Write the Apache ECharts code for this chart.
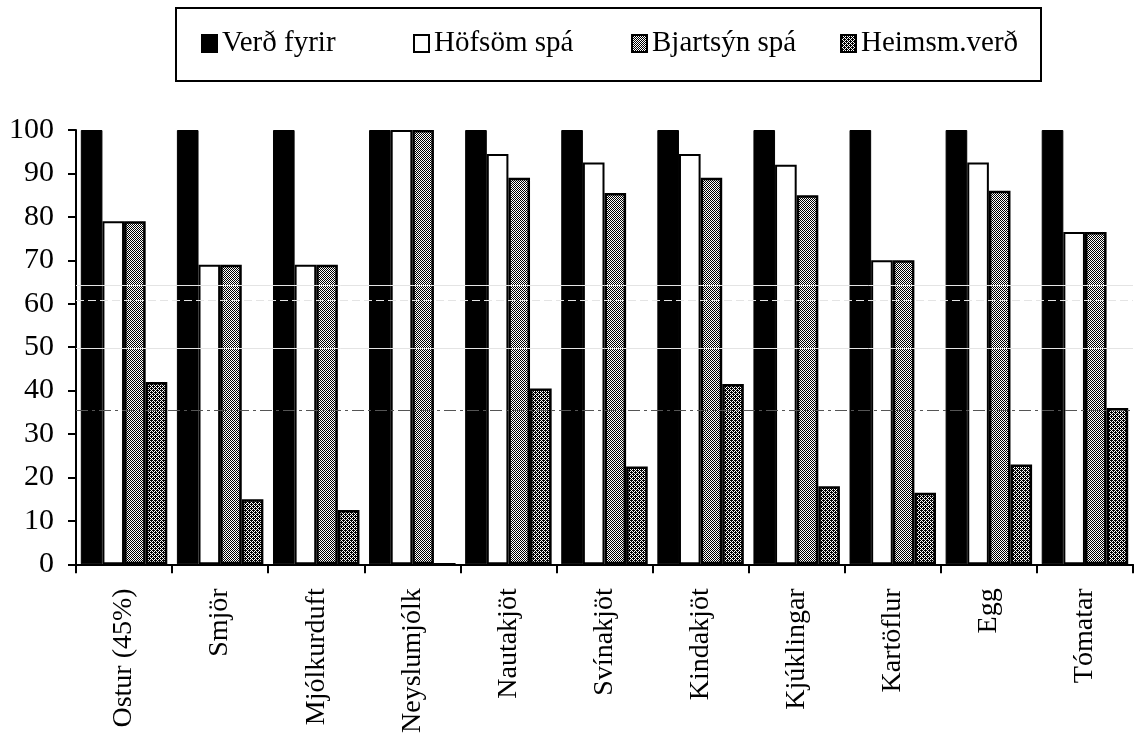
<!DOCTYPE html>
<html>
<head>
<meta charset="utf-8">
<script src="https://cdn.jsdelivr.net/npm/echarts@6/dist/echarts.min.js"></script>
<style>
  html, body { margin: 0; padding: 0; background: #fff; }
  #chart { width: 1135px; height: 736px; }
</style>
</head>
<body>
<div id="chart"></div>
<script>
// ---- data ----
const categories = ['Ostur (45%)', 'Smjör', 'Mjólkurduft', 'Neyslumjólk', 'Nautakjöt', 'Svínakjöt', 'Kindakjöt', 'Kjúklingar', 'Kartöflur', 'Egg', 'Tómatar'];
const seriesNames = ['Verð fyrir', 'Höfsöm spá', 'Bjartsýn spá', 'Heimsm.verð'];
const verdFyrir   = [100, 100, 100, 100, 100, 100, 100, 100, 100, 100, 100];
const hofsomSpa   = [79, 69, 69, 100, 94.5, 92.5, 94.5, 92, 70, 92.5, 76.5];
const bjartsynSpa = [79, 69, 69, 100, 89, 85.5, 89, 85, 70, 86, 76.5];
const heimsmVerd  = [42, 15, 12.5, 0, 40.5, 22.5, 41.5, 18, 16.5, 23, 36];
const yMin = 0, yMax = 100, yInterval = 10;
// faint scan lines visible in the reference (y values)
const scanLinesSolid = [64.3, 49.8];
const scanLinesDashed = [60.8];
const scanLineDark = [35.4];

// ---- patterns ----
function makePattern(mask) {
  const n = mask.length;
  const c = document.createElement('canvas');
  c.width = n; c.height = n;
  const ctx = c.getContext('2d');
  ctx.fillStyle = '#fff';
  ctx.fillRect(0, 0, n, n);
  ctx.fillStyle = '#000';
  for (let y = 0; y < n; y++) for (let x = 0; x < n; x++) if (mask[y][x] === '1') ctx.fillRect(x, y, 1, 1);
  return { image: c, repeat: 'repeat' };
}
const lightPattern = makePattern(['1010', '0101', '1010', '0101']);
const darkPattern  = makePattern(['1011', '0101', '1110', '0101']);

const serif = '"Liberation Serif", "Times New Roman", "DejaVu Serif", serif';

const chart = echarts.init(document.getElementById('chart'), null, { renderer: 'canvas' });

function legendAt(name, left) {
  return {
    data: [name], left: left, top: 24, itemWidth: 15, itemHeight: 17, itemGap: 0,
    icon: 'rect', selectedMode: false,
    textStyle: { fontFamily: serif, fontSize: 29, color: '#000', padding: [0, 0, 0, 0] }
  };
}

const markLines = {
  silent: true, symbol: 'none', label: { show: false }, animation: false, z: 10,
  data: [
    ...scanLinesSolid.map(v => ({ yAxis: v, lineStyle: { color: '#e4e4e4', width: 1, type: 'solid' } })),
    ...scanLinesDashed.map(v => ({ yAxis: v, lineStyle: { color: '#e4e4e4', width: 1, type: [8, 4] } })),
    ...scanLineDark.map(v => ({ yAxis: v, lineStyle: { color: '#555', width: 1, type: [12, 4, 3, 4] } }))
  ]
};

const option = {
  animation: false,
  backgroundColor: '#fff',
  graphic: [{
    type: 'rect', left: 175, top: 7, z: -1,
    shape: { width: 865, height: 73 },
    style: { fill: '#fff', stroke: '#000', lineWidth: 2 }
  }],
  legend: [
    legendAt(seriesNames[0], 196),
    legendAt(seriesNames[1], 408),
    legendAt(seriesNames[2], 626),
    legendAt(seriesNames[3], 835)
  ],
  grid: { left: 76, right: 2, top: 130, bottom: 171, containLabel: false },
  xAxis: {
    type: 'category', data: categories, boundaryGap: true,
    axisLine: { show: true, lineStyle: { color: '#000', width: 2 } },
    axisTick: { show: true, inside: false, length: 9, lineStyle: { color: '#000', width: 2 } },
    axisLabel: { rotate: 90, margin: 24, interval: 0, fontFamily: serif, fontSize: 28, color: '#000' },
    splitLine: { show: false }
  },
  yAxis: {
    type: 'value', min: yMin, max: yMax, interval: yInterval,
    axisLine: { show: true, lineStyle: { color: '#000', width: 2 } },
    axisTick: { show: true, inside: false, length: 8, lineStyle: { color: '#000', width: 2 } },
    axisLabel: { margin: 22, fontFamily: serif, fontSize: 30, color: '#000' },
    splitLine: { show: false }
  },
  series: [
    { name: seriesNames[0], type: 'bar', data: verdFyrir, barGap: '0%', barCategoryGap: '10%',
      itemStyle: { color: '#000', borderColor: '#000', borderWidth: 1 } },
    { name: seriesNames[1], type: 'bar', data: hofsomSpa,
      itemStyle: { color: '#fff', borderColor: '#000', borderWidth: 2 } },
    { name: seriesNames[2], type: 'bar', data: bjartsynSpa,
      itemStyle: { color: lightPattern, borderColor: '#000', borderWidth: 2.5 } },
    { name: seriesNames[3], type: 'bar', data: heimsmVerd,
      itemStyle: { color: darkPattern, borderColor: '#000', borderWidth: 2.5 }, markLine: markLines }
  ]
};
chart.setOption(option);
</script>
</body>
</html>
